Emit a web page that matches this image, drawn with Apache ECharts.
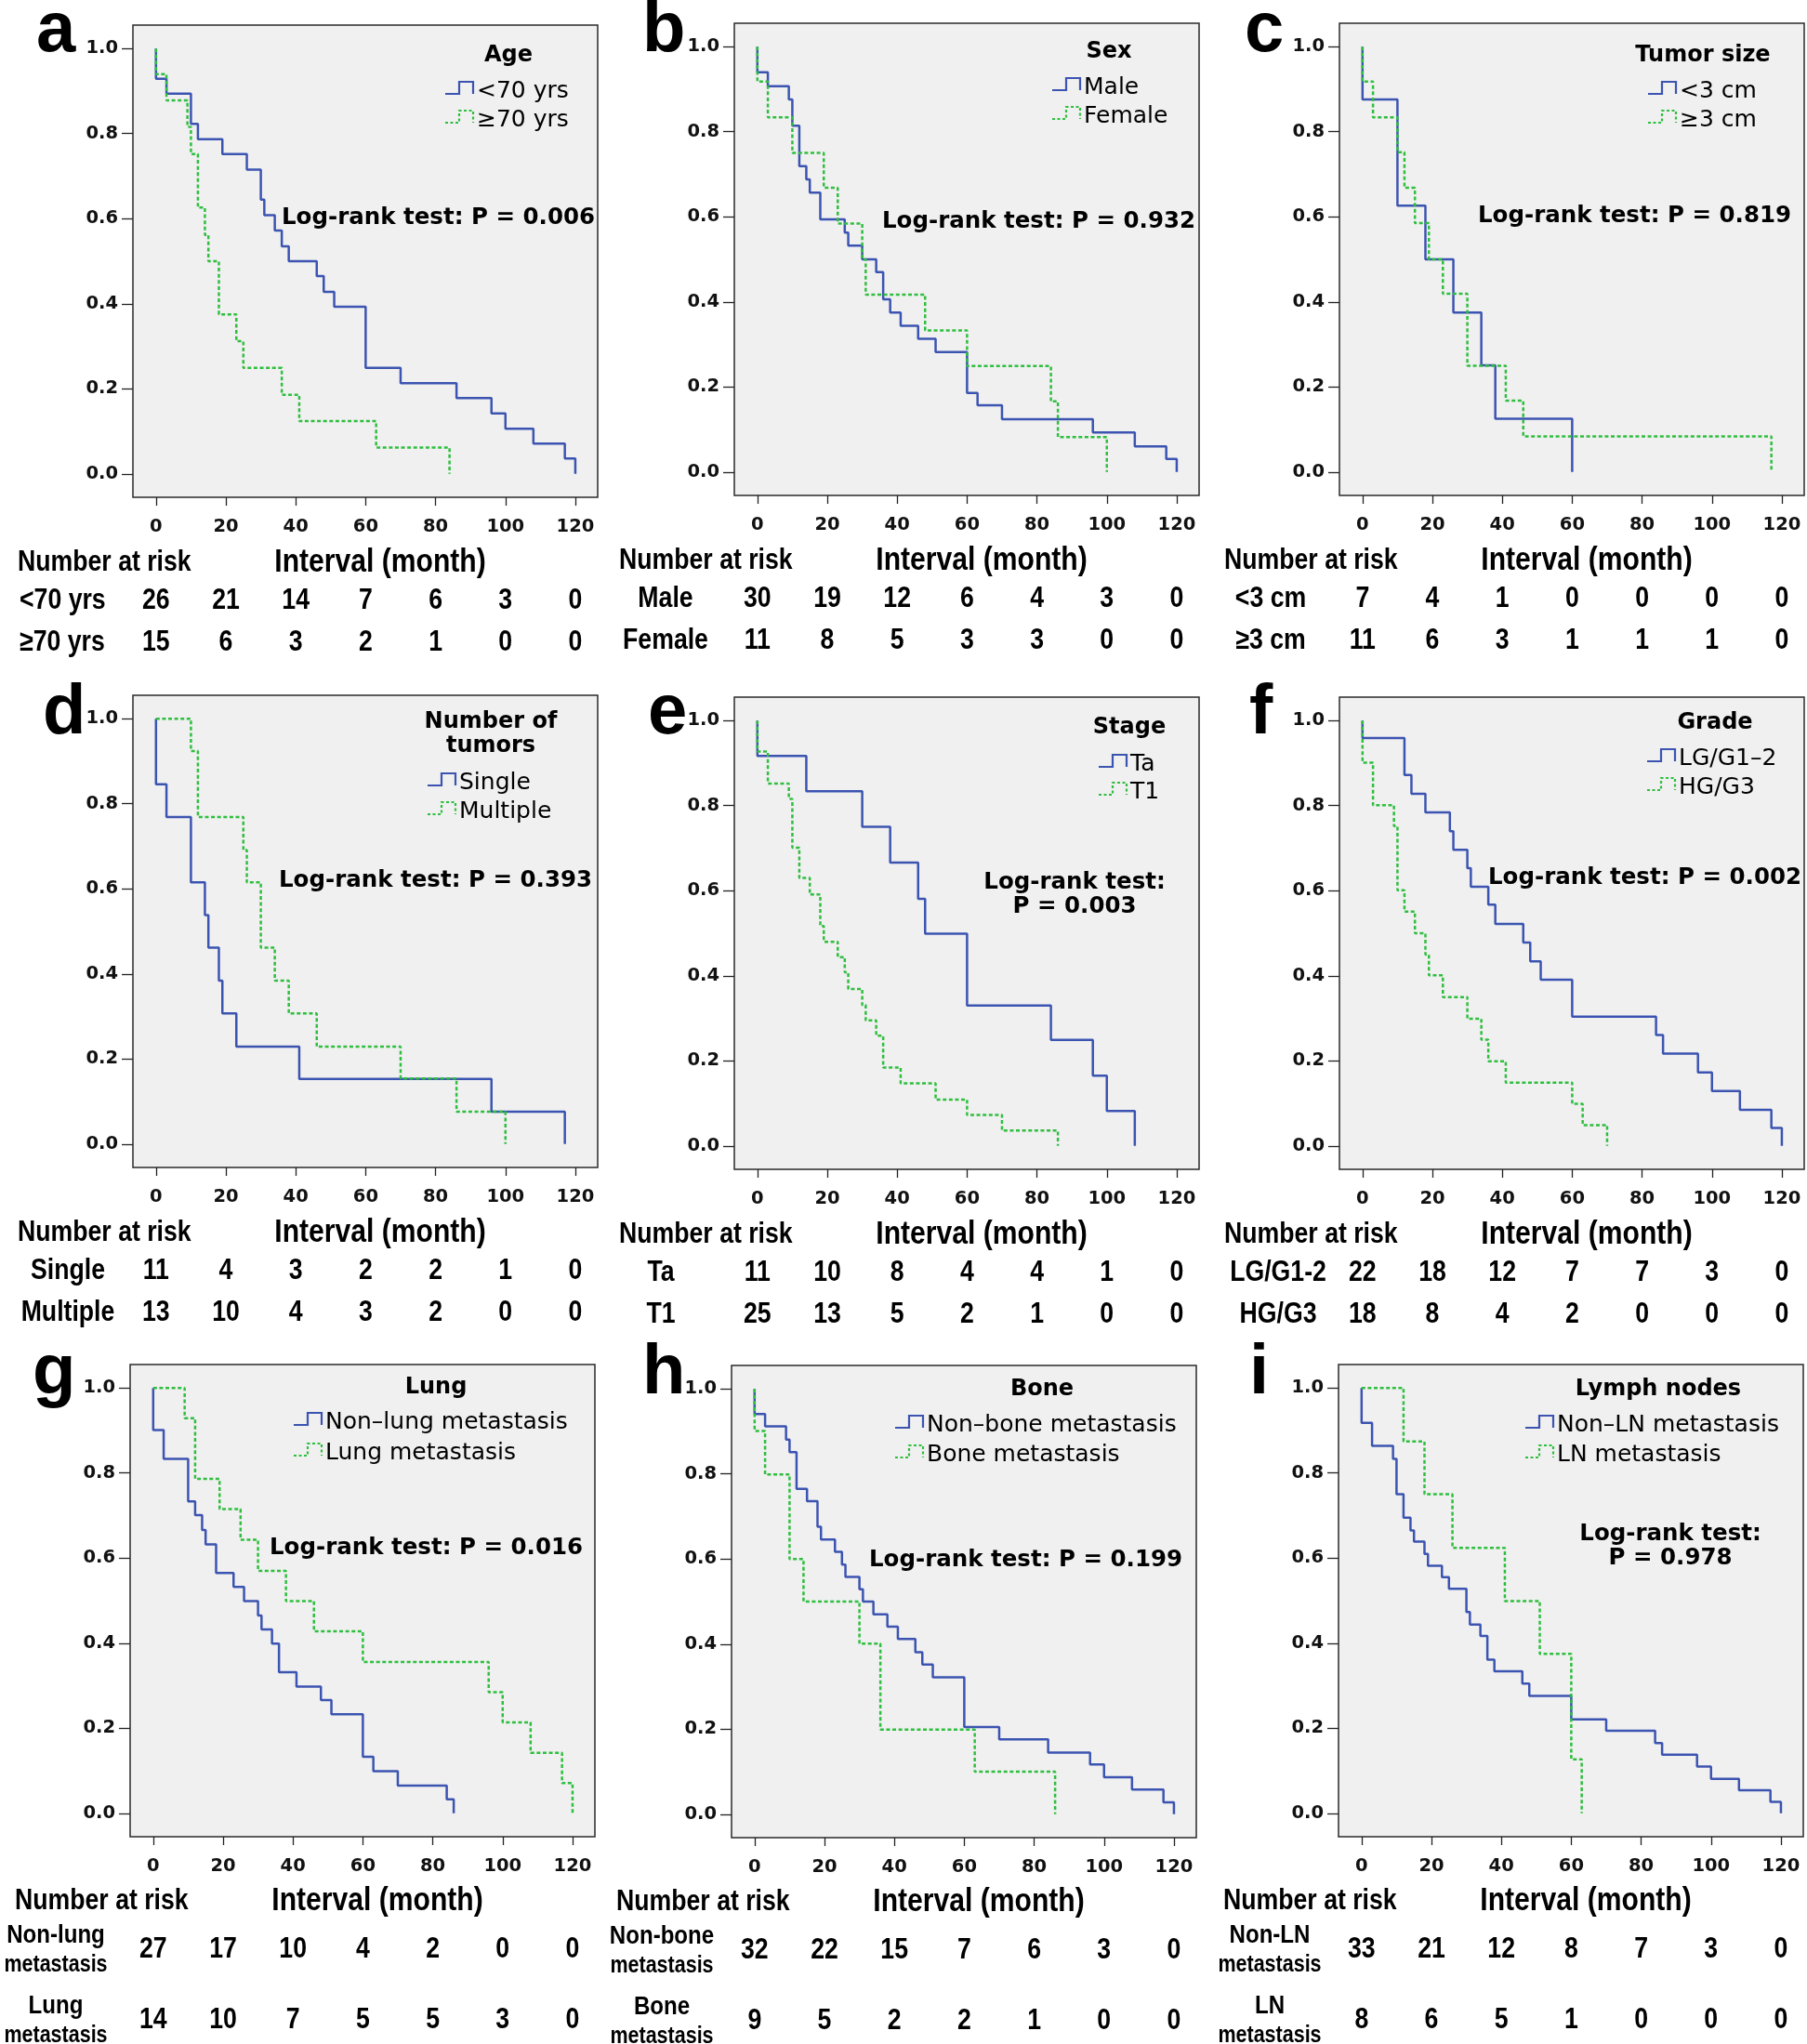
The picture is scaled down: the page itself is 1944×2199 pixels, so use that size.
<!DOCTYPE html>
<html><head><meta charset="utf-8">
<script src="https://cdn.jsdelivr.net/npm/echarts@6/dist/echarts.min.js"></script>
<style>html,body{margin:0;padding:0;background:#fff;}#c{width:1944px;height:2199px;}</style>
</head><body><div id="c"></div>
<script>
// ---------------- DATA ----------------
const X_TICKS = [0, 20, 40, 60, 80, 100, 120];
const Y_TICKS = [0, 0.2, 0.4, 0.6, 0.8, 1.0];

// a: Age
const a_lt70_t = [0, 0, 3, 10, 12, 19, 26, 30, 31, 34, 36, 38, 46, 48, 51, 60, 70, 86, 96, 100, 108, 117, 120];
const a_lt70_s = [1, 0.929, 0.894, 0.823, 0.787, 0.752, 0.715, 0.645, 0.608, 0.572, 0.535, 0.500, 0.465, 0.428, 0.393, 0.249, 0.213, 0.178, 0.142, 0.106, 0.071, 0.036, 0];
const a_ge70_t = [0, 0, 3, 9, 10, 12, 14, 15, 18, 23, 25, 36, 41, 63, 84];
const a_ge70_s = [1, 0.940, 0.878, 0.816, 0.752, 0.626, 0.562, 0.500, 0.375, 0.312, 0.249, 0.186, 0.124, 0.062, 0];
const a_risk_lt70 = [26, 21, 14, 7, 6, 3, 0];
const a_risk_ge70 = [15, 6, 3, 2, 1, 0, 0];

// b: Sex
const b_male_t = [0, 0, 3, 9, 10, 12, 14, 15, 18, 25, 26, 30, 34, 36, 38, 41, 46, 51, 60, 63, 70, 96, 108, 117, 120];
const b_male_s = [1, 0.940, 0.907, 0.876, 0.814, 0.719, 0.688, 0.657, 0.594, 0.563, 0.532, 0.500, 0.470, 0.406, 0.375, 0.344, 0.313, 0.282, 0.186, 0.157, 0.124, 0.093, 0.060, 0.031, 0];
const b_female_t = [0, 0, 3, 10, 19, 23, 30, 31, 48, 60, 84, 86, 100];
const b_female_s = [1, 0.918, 0.834, 0.750, 0.668, 0.584, 0.500, 0.417, 0.333, 0.249, 0.166, 0.082, 0];
const b_risk_male = [30, 19, 12, 6, 4, 3, 0];
const b_risk_female = [11, 8, 5, 3, 3, 0, 0];

// c: Tumor size
const c_lt3_t = [0, 0, 10, 18, 26, 34, 38, 60];
const c_lt3_s = [1, 0.876, 0.626, 0.500, 0.375, 0.251, 0.125, 0];
const c_ge3_t = [0, 0, 3, 10, 12, 15, 19, 23, 30, 41, 46, 117];
const c_ge3_s = [1, 0.918, 0.834, 0.752, 0.668, 0.585, 0.500, 0.419, 0.250, 0.168, 0.084, 0];
const c_risk_lt3 = [7, 4, 1, 0, 0, 0, 0];
const c_risk_ge3 = [11, 6, 3, 1, 1, 1, 0];

// d: Number of tumors
const d_single_t = [0, 0, 3, 10, 14, 15, 18, 19, 23, 41, 96, 117];
const d_single_s = [1, 0.846, 0.769, 0.615, 0.538, 0.462, 0.384, 0.307, 0.229, 0.153, 0.076, 0];
const d_multi_t = [0, 10, 12, 25, 26, 30, 34, 38, 46, 70, 86, 100];
const d_multi_s = [1, 0.924, 0.769, 0.691, 0.615, 0.462, 0.384, 0.307, 0.229, 0.154, 0.076, 0];
const d_risk_single = [11, 4, 3, 2, 2, 1, 0];
const d_risk_multi = [13, 10, 4, 3, 2, 0, 0];

// e: Stage
const e_ta_t = [0, 0, 14, 30, 38, 46, 48, 60, 84, 96, 100, 108];
const e_ta_s = [1, 0.917, 0.834, 0.750, 0.666, 0.581, 0.499, 0.330, 0.249, 0.165, 0.082, 0];
const e_t1_t = [0, 0, 3, 9, 10, 12, 15, 18, 19, 23, 25, 26, 30, 31, 34, 36, 41, 51, 60, 70, 86];
const e_t1_s = [1, 0.927, 0.852, 0.816, 0.701, 0.630, 0.591, 0.517, 0.480, 0.444, 0.408, 0.369, 0.331, 0.295, 0.259, 0.184, 0.147, 0.109, 0.073, 0.036, 0];
const e_risk_ta = [11, 10, 8, 4, 4, 1, 0];
const e_risk_t1 = [25, 13, 5, 2, 1, 0, 0];

// f: Grade
const f_lg_t = [0, 0, 12, 14, 18, 25, 26, 30, 31, 36, 38, 46, 48, 51, 60, 84, 86, 96, 100, 108, 117, 120];
const f_lg_s = [1, 0.959, 0.872, 0.828, 0.784, 0.740, 0.696, 0.653, 0.609, 0.567, 0.522, 0.478, 0.434, 0.391, 0.304, 0.261, 0.217, 0.173, 0.129, 0.085, 0.042, 0];
const f_hg_t = [0, 0, 3, 9, 10, 12, 15, 18, 19, 23, 30, 34, 36, 41, 60, 63, 70];
const f_hg_s = [1, 0.901, 0.801, 0.752, 0.601, 0.551, 0.500, 0.450, 0.401, 0.350, 0.299, 0.250, 0.199, 0.149, 0.099, 0.049, 0];
const f_risk_lg = [22, 18, 12, 7, 7, 3, 0];
const f_risk_hg = [18, 8, 4, 2, 0, 0, 0];

// g: Lung
const g_nonlung_t = [0, 0, 3, 10, 12, 14, 15, 18, 23, 26, 30, 31, 34, 36, 41, 48, 51, 60, 63, 70, 84, 86];
const g_nonlung_s = [1, 0.901, 0.833, 0.733, 0.701, 0.666, 0.632, 0.565, 0.532, 0.499, 0.465, 0.432, 0.399, 0.332, 0.298, 0.266, 0.233, 0.133, 0.099, 0.065, 0.033, 0];
const g_lung_t = [0, 9, 12, 19, 25, 30, 38, 46, 60, 96, 100, 108, 117, 120];
const g_lung_s = [1, 0.929, 0.786, 0.715, 0.643, 0.570, 0.499, 0.428, 0.356, 0.285, 0.214, 0.142, 0.071, 0];
const g_risk_nonlung = [27, 17, 10, 4, 2, 0, 0];
const g_risk_lung = [14, 10, 7, 5, 5, 3, 0];

// h: Bone
const h_nonbone_t = [0, 0, 3, 9, 10, 12, 15, 18, 19, 23, 25, 26, 30, 31, 34, 38, 41, 46, 48, 51, 60, 70, 84, 96, 100, 108, 117, 120];
const h_nonbone_s = [1, 0.941, 0.912, 0.881, 0.851, 0.765, 0.736, 0.676, 0.646, 0.617, 0.587, 0.558, 0.529, 0.500, 0.470, 0.441, 0.412, 0.381, 0.352, 0.322, 0.205, 0.176, 0.145, 0.117, 0.087, 0.058, 0.028, 0];
const h_bone_t = [0, 0, 3, 10, 14, 30, 36, 63, 86];
const h_bone_s = [1, 0.901, 0.799, 0.600, 0.500, 0.401, 0.199, 0.100, 0];
const h_risk_nonbone = [32, 22, 15, 7, 6, 3, 0];
const h_risk_bone = [9, 5, 2, 2, 1, 0, 0];

// i: Lymph nodes
const i_nonln_t = [0, 0, 3, 9, 10, 12, 14, 15, 18, 19, 23, 25, 30, 31, 34, 36, 38, 46, 48, 60, 70, 84, 86, 96, 100, 108, 117, 120];
const i_nonln_s = [1, 0.918, 0.864, 0.833, 0.750, 0.695, 0.665, 0.639, 0.610, 0.582, 0.555, 0.528, 0.473, 0.444, 0.417, 0.361, 0.334, 0.305, 0.276, 0.221, 0.194, 0.165, 0.138, 0.110, 0.081, 0.054, 0.027, 0];
const i_ln_t = [0, 12, 18, 26, 41, 51, 60, 63];
const i_ln_s = [1, 0.874, 0.750, 0.624, 0.499, 0.375, 0.127, 0];
const i_risk_nonln = [33, 21, 12, 8, 7, 3, 0];
const i_risk_ln = [8, 6, 5, 1, 0, 0, 0];

// ---------------- PANEL SETUP ----------------
const panels = [
  {letter:'a', L:143, T:27, lx:39, ly:34, curves:[[a_lt70_t,a_lt70_s],[a_ge70_t,a_ge70_s]], names:['<70 yrs','≥70 yrs'], title:['Age'], risk:[a_risk_lt70,a_risk_ge70], rowLabels:[['<70 yrs'],['≥70 yrs']], rowAlign:'left', rowX:-122, ptext:['Log-rank test: P = 0.006'],
   lg:{tx:404, ty:30, ix:336, y1:69, y2:100}, p:{x:160, y:205, align:'left'}},
  {letter:'b', L:790, T:25, lx:691, ly:34, curves:[[b_male_t,b_male_s],[b_female_t,b_female_s]], names:['Male','Female'], title:['Sex'], risk:[b_risk_male,b_risk_female], rowLabels:[['Male'],['Female']], rowAlign:'center', rowX:-74, ptext:['Log-rank test: P = 0.932'],
   lg:{tx:403, ty:28, ix:342, y1:67, y2:98}, p:{x:159, y:211, align:'left'}},
  {letter:'c', L:1441, T:25, lx:1339, ly:34, curves:[[c_lt3_t,c_lt3_s],[c_ge3_t,c_ge3_s]], names:['<3 cm','≥3 cm'], title:['Tumor size'], risk:[c_risk_lt3,c_risk_ge3], rowLabels:[['<3 cm'],['≥3 cm']], rowAlign:'center', rowX:-74, ptext:['Log-rank test: P = 0.819'],
   lg:{tx:391, ty:32, ix:332, y1:71, y2:102}, p:{x:149, y:205, align:'left'}},
  {letter:'d', L:143, T:748, lx:46, ly:768, curves:[[d_single_t,d_single_s],[d_multi_t,d_multi_s]], names:['Single','Multiple'], title:['Number of','tumors'], risk:[d_risk_single,d_risk_multi], rowLabels:[['Single'],['Multiple']], rowAlign:'center', rowX:-70, ptext:['Log-rank test: P = 0.393'],
   lg:{tx:385, ty:26, ix:317, y1:92, y2:123}, p:{x:157, y:197, align:'left'}},
  {letter:'e', L:790, T:750, lx:697, ly:768, curves:[[e_ta_t,e_ta_s],[e_t1_t,e_t1_s]], names:['Ta','T1'], title:['Stage'], risk:[e_risk_ta,e_risk_t1], rowLabels:[['Ta'],['T1']], rowAlign:'center', rowX:-79, ptext:['Log-rank test:','P = 0.003'],
   lg:{tx:425, ty:30, ix:392, y1:70, y2:100}, p:{x:366, y:197, align:'center'}},
  {letter:'f', L:1441, T:750, lx:1344, ly:768, curves:[[f_lg_t,f_lg_s],[f_hg_t,f_hg_s]], names:['LG/G1\u20132','HG/G3'], title:['Grade'], risk:[f_risk_lg,f_risk_hg], rowLabels:[['LG/G1-2'],['HG/G3']], rowAlign:'center', rowX:-66, ptext:['Log-rank test: P = 0.002'],
   lg:{tx:404, ty:25, ix:331, y1:64, y2:95}, p:{x:160, y:192, align:'left'}},
  {letter:'g', L:140, T:1468, lx:35, ly:1478, curves:[[g_nonlung_t,g_nonlung_s],[g_lung_t,g_lung_s]], names:['Non\u2013lung metastasis','Lung metastasis'], title:['Lung'], risk:[g_risk_nonlung,g_risk_lung], rowLabels:[['Non-lung','metastasis'],['Lung','metastasis']], rowAlign:'center', rowX:-80, ptext:['Log-rank test: P = 0.016'],
   lg:{tx:329, ty:22, ix:176, y1:60, y2:93}, p:{x:150, y:195, align:'left'}},
  {letter:'h', L:787, T:1469, lx:691, ly:1478, curves:[[h_nonbone_t,h_nonbone_s],[h_bone_t,h_bone_s]], names:['Non\u2013bone metastasis','Bone metastasis'], title:['Bone'], risk:[h_risk_nonbone,h_risk_bone], rowLabels:[['Non-bone','metastasis'],['Bone','metastasis']], rowAlign:'center', rowX:-75, ptext:['Log-rank test: P = 0.199'],
   lg:{tx:334, ty:23, ix:176, y1:62, y2:94}, p:{x:148, y:207, align:'left'}},
  {letter:'i', L:1440, T:1468, lx:1344, ly:1478, curves:[[i_nonln_t,i_nonln_s],[i_ln_t,i_ln_s]], names:['Non\u2013LN metastasis','LN metastasis'], title:['Lymph nodes'], risk:[i_risk_nonln,i_risk_ln], rowLabels:[['Non-LN','metastasis'],['LN','metastasis']], rowAlign:'center', rowX:-74, ptext:['Log-rank test:','P = 0.978'],
   lg:{tx:344, ty:24, ix:201, y1:63, y2:95}, p:{x:357, y:180, align:'center'}}
];

const W = 500, H = 508;
const BLUE = '#3c54b1', GREEN = '#2fbe3f';
const TICK_FONT = {fontFamily:'DejaVu Sans', fontWeight:'bold', fontSize:19.5, color:'#111'};
const LEG_TITLE_FONT = 'bold 24px "DejaVu Sans"';
const LEG_FONT = '25px "DejaVu Sans"';
const P_FONT = 'bold 24.5px "DejaVu Sans"';
const LETTER_FONT = 'bold 76px "Liberation Sans", Arial, sans-serif';
const RISK_FAMILY = '"Liberation Sans", Arial, sans-serif';
const SX = 0.86;
const DY = 3; // vertical nudge for DejaVu text centring

const grids = [], xAxes = [], yAxes = [], series = [];
panels.forEach((p, k) => {
  grids.push({left:p.L, top:p.T, width:W, height:H, show:true, backgroundColor:'#f0f0f0', borderColor:'#2a2a2a', borderWidth:1.5});
  xAxes.push({type:'value', gridIndex:k, min:-6.6, max:126.4,
    axisLine:{show:false, onZero:false},
    axisTick:{show:true, length:9, customValues:X_TICKS, lineStyle:{color:'#222', width:1.3}},
    axisLabel:{customValues:X_TICKS, margin:22, ...TICK_FONT},
    splitLine:{show:false}});
  yAxes.push({type:'value', gridIndex:k, min:-0.055, max:1.055,
    axisLine:{show:false, onZero:false},
    axisTick:{show:true, length:12, customValues:Y_TICKS, lineStyle:{color:'#222', width:1.3}},
    axisLabel:{customValues:Y_TICKS, margin:16, formatter:(v)=>v.toFixed(1), ...TICK_FONT},
    splitLine:{show:false}});
  p.curves.forEach((c, j) => {
    series.push({type:'line', name:p.names[j], xAxisIndex:k, yAxisIndex:k, step:'end', symbol:'none', showSymbol:false,
      data:c[0].map((t, i) => [t, c[1][i]]),
      lineStyle: j === 0 ? {color:BLUE, width:2.5} : {color:GREEN, width:2.5, type:[4, 2.6]},
      z: 3 + j, silent:true});
  });
});

const chart = echarts.init(document.getElementById('c'), null, {renderer:'canvas', width:1944, height:2199});
chart.setOption({animation:false, grid:grids, xAxis:xAxes, yAxis:yAxes, series:series});

function txt(s, x, y, font, align, extra) {
  return Object.assign({type:'text', x:x, y:y, silent:true,
    style:{text:s, font:font, fill:'#000', align:align || 'left', verticalAlign:'middle'}}, extra || {});
}

const gfx = [];
panels.forEach((p, k) => {
  const B = p.T + H;
  const third = k >= 6;
  // panel letter
  gfx.push(txt(p.letter, p.lx, p.ly, LETTER_FONT, 'left'));
  // legend title
  p.title.forEach((ln, j) => gfx.push(txt(ln, p.L + p.lg.tx, p.T + p.lg.ty + DY + j * 26, LEG_TITLE_FONT, 'center')));
  // legend entries
  [p.lg.y1, p.lg.y2].forEach((yy, j) => {
    const x0 = p.L + p.lg.ix, yc = p.T + yy + 1;
    gfx.push({type:'polyline', silent:true,
      shape:{points:[[x0, yc + 4], [x0 + 15, yc + 4], [x0 + 15, yc - 9], [x0 + 30, yc - 9], [x0 + 30, yc + 4]]},
      style:{stroke: j ? GREEN : BLUE, lineWidth:2.2, fill:null, lineDash: j ? [3, 2.5] : null}});
    gfx.push(txt(p.names[j], x0 + 34, yc + 1, LEG_FONT, 'left'));
  });
  // log-rank text
  p.ptext.forEach((ln, j) => gfx.push(txt(ln, p.L + p.p.x, p.T + p.p.y + DY + j * 26, P_FONT, p.p.align)));
  // risk table
  const hdrY = B + (third ? 69 : 70);
  gfx.push(txt('Number at risk', p.L - 124, hdrY, 'bold 31px ' + RISK_FAMILY, 'left', {scaleX:SX}));
  gfx.push(txt('Interval (month)', p.L + 266, hdrY, 'bold 35px ' + RISK_FAMILY, 'center', {scaleX:SX}));
  const rowYs = third ? [B + 121, B + 197] : [B + 111, B + 156];
  p.risk.forEach((vals, r) => {
    const ry = rowYs[r];
    const lab = p.rowLabels[r];
    if (lab.length === 1) {
      gfx.push(txt(lab[0], p.L + p.rowX, ry, 'bold 31px ' + RISK_FAMILY, p.rowAlign, {scaleX:SX}));
    } else {
      gfx.push(txt(lab[0], p.L + p.rowX, ry - 15, 'bold 28px ' + RISK_FAMILY, 'center', {scaleX:SX}));
      gfx.push(txt(lab[1], p.L + p.rowX, ry + 17, 'bold 25px ' + RISK_FAMILY, 'center', {scaleX:SX}));
    }
    vals.forEach((v, i) => {
      const px = chart.convertToPixel({xAxisIndex:k}, X_TICKS[i]);
      gfx.push(txt(String(v), px, ry, 'bold 31px ' + RISK_FAMILY, 'center', {scaleX:SX}));
    });
  });
});
chart.setOption({graphic:{elements:gfx}});
</script>
</body></html>
